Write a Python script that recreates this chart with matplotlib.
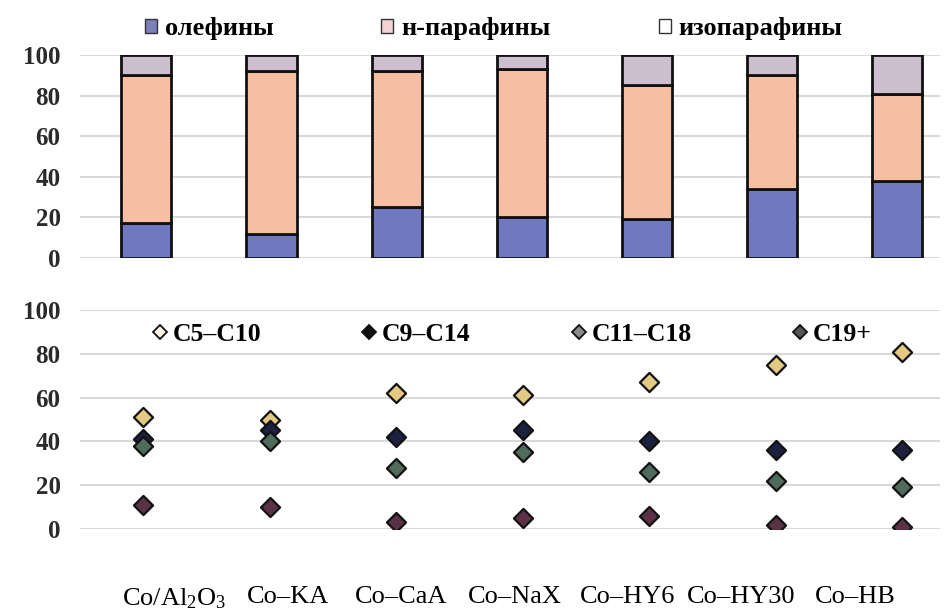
import matplotlib
matplotlib.use('Agg')
import matplotlib.pyplot as plt
import matplotlib.patches as mpatches
from matplotlib.lines import Line2D
import numpy as np

# catalysts (x labels)
catalysts = ['Co/Al$_2$O$_3$', 'Co–KA', 'Co–CaA', 'Co–NaX', 'Co–HY6', 'Co–HY30', 'Co–HB']

# top panel: hydrocarbon group composition, %
olefins = [17, 12, 25, 20, 19, 34, 38]
n_paraffins = [73, 80, 67, 73, 66, 56, 43]
iso_paraffins = [10, 8, 8, 7, 15, 10, 19]

# bottom panel: fraction selectivity, %
c5_c10 = [51, 50, 62, 61, 67, 75, 81]
c9_c14 = [41, 45, 42, 45, 40, 36, 36]
c11_c18 = [38, 40, 28, 35, 26, 22, 19]
c19_plus = [11, 10, 3, 5, 6, 2, 1]

plt.rcParams['font.family'] = ['Liberation Serif', 'DejaVu Serif']
plt.rcParams['mathtext.fontset'] = 'custom'
plt.rcParams['mathtext.rm'] = 'Liberation Serif'
plt.rcParams['mathtext.default'] = 'regular'

W, H = 952, 616
fig = plt.figure(figsize=(W / 100, H / 100), dpi=100)


def px_axes(left, top, right, bottom):
    return fig.add_axes([left / W, 1 - bottom / H, (right - left) / W, (bottom - top) / H])


def style_axes(ax):
    for s in ax.spines.values():
        s.set_visible(False)
    ax.set_ylim(0, 100)
    ax.set_yticks([0, 20, 40, 60, 80, 100])
    ax.tick_params(axis='y', length=0, pad=14, labelsize=18, labelcolor='#2a2a2a')
    for lab in ax.get_yticklabels():
        lab.set_fontweight('bold')
    ax.set_xticks([])
    ax.grid(axis='y', color='#d9d9d9', lw=1.5)
    ax.set_axisbelow(True)


# ---- top: stacked bars
ax1 = px_axes(80, 55, 940, 258)
x = np.arange(len(catalysts))
bottoms2 = np.array(olefins)
bottoms3 = bottoms2 + np.array(n_paraffins)
ax1.bar(x, olefins, 0.4, color='#7078c0', edgecolor='#111', lw=2)
ax1.bar(x, n_paraffins, 0.4, bottom=bottoms2, color='#f6bfa4', edgecolor='#111', lw=2)
ax1.bar(x, iso_paraffins, 0.4, bottom=bottoms3, color='#cdbfd0', edgecolor='#111', lw=2)
ax1.set_xlim(-0.53, 6.34)
style_axes(ax1)

leg_handles = [
    mpatches.Patch(facecolor='#7a80b8', edgecolor='#333', label='олефины'),
    mpatches.Patch(facecolor='#f3d2d2', edgecolor='#333', label='н-парафины'),
    mpatches.Patch(facecolor='#ffffff', edgecolor='#333', label='изопарафины'),
]
ax1.legend(handles=leg_handles, ncol=3, loc='center', bbox_to_anchor=(0.481, 1.13),
           frameon=False, prop={'weight': 'bold', 'size': 19},
           handlelength=0.45, handleheight=0.45, handletextpad=0.3, columnspacing=4.1)

# ---- bottom: scatter of fractions
ax2 = px_axes(80, 310, 940, 529)
style_axes(ax2)
ax2.set_xlim(-0.5, 6.3)
series = [
    (c5_c10, '#e3c982', 'C5–C10', '#f4efe0'),
    (c9_c14, '#1d2140', 'C9–C14', '#111111'),
    (c11_c18, '#4f6b5c', 'C11–C18', '#8a8a8a'),
    (c19_plus, '#5b3245', 'C19+', '#555555'),
]
handles = []
for vals, col, lab, lcol in series:
    ax2.scatter(x, vals, marker='D', s=95, facecolor=col, edgecolor='#111', lw=1.6, zorder=3)
    handles.append(Line2D([], [], ls='none', marker='D', markersize=7, markerfacecolor=lcol,
                          markeredgecolor='#111', markeredgewidth=1.3, label=lab))
ax2.legend(handles=handles, ncol=4, loc='center', bbox_to_anchor=(0.502, 0.886),
           frameon=False, prop={'weight': 'bold', 'size': 18.5},
           handlelength=0.6, handletextpad=0.2, columnspacing=3.9)

# ---- x labels (placed on their own axis, as in the original figure)
ax3 = px_axes(174, 585, 855, 586)
ax3.set_xlim(0, 6)
ax3.set_xticks(x)
ax3.set_xticklabels(catalysts, fontsize=19)
ax3.tick_params(axis='x', length=0, pad=0)
ax3.set_yticks([])
for s in ax3.spines.values():
    s.set_visible(False)
ax3.patch.set_alpha(0)

fig.savefig('out.png', dpi=100)
